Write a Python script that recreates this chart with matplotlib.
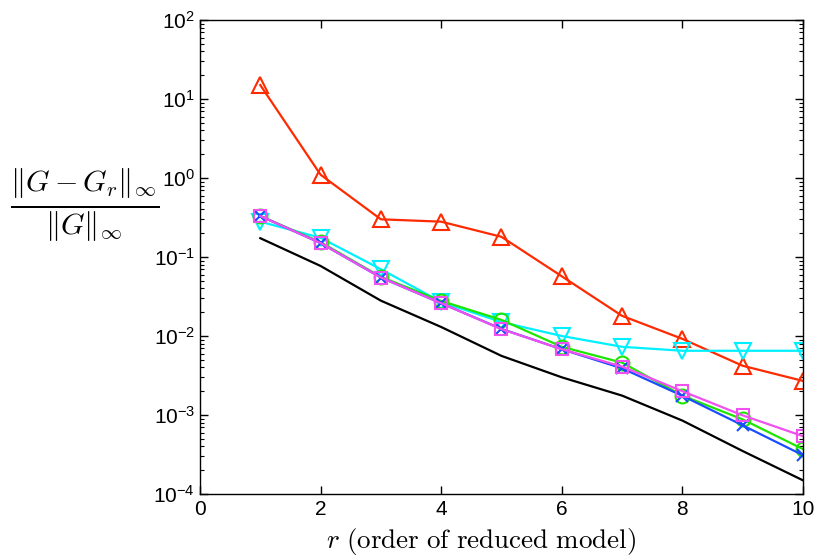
import matplotlib
matplotlib.use("Agg")
import matplotlib.pyplot as plt
import numpy as np
from matplotlib.ticker import LogLocator, NullFormatter

plt.rcParams['font.family'] = ['Liberation Sans', 'DejaVu Sans']
plt.rcParams['mathtext.fontset'] = 'cm'

r = [1, 2, 3, 4, 5, 6, 7, 8, 9, 10]
red_tri = [15.0, 1.1, 0.30, 0.28, 0.18, 0.057, 0.018, 0.0092, 0.0042, 0.0027]
cyan_tri = [0.28, 0.175, 0.070, 0.027, 0.015, 0.010, 0.0073, 0.0065, 0.0065, 0.0065]
green_circ = [0.33, 0.154, 0.056, 0.0278, 0.016, 0.0073, 0.0046, 0.00176, 0.00088, 0.00037]
blue_x = [0.33, 0.15, 0.055, 0.026, 0.0123, 0.0068, 0.0039, 0.00175, 0.00074, 0.00031]
magenta_sq = [0.33, 0.15, 0.055, 0.026, 0.0122, 0.0068, 0.0041, 0.0020, 0.00099, 0.00054]
black_line = [0.173, 0.077, 0.028, 0.013, 0.0056, 0.0030, 0.00176, 0.00085, 0.00035, 0.000149]

fig = plt.figure(figsize=(8.17, 5.57), dpi=100)
ax = fig.add_axes([0.2448, 0.1131, 0.738, 0.851])

lw = 1.6
ax.plot(r, black_line, color='black', lw=lw)
ax.plot(r, red_tri, color='#FF2A00', lw=lw, marker='^', ms=12, mfc='none', mew=1.5)
ax.plot(r, cyan_tri, color='#00F0FF', lw=lw, marker='v', ms=12, mfc='none', mew=1.5)
ax.plot(r, green_circ, color='#1EE600', lw=lw, marker='o', ms=10, mfc='none', mew=1.5)
ax.plot(r, blue_x, color='#1A4DFF', lw=lw, marker='x', ms=9, mfc='none', mew=1.5)
ax.plot(r, magenta_sq, color='#F050F0', lw=lw, marker='s', ms=9, mfc='none', mew=1.5)

ax.set_yscale('log')
ax.set_xlim(0, 10)
ax.set_ylim(1e-4, 1e2)
ax.set_xticks([0, 2, 4, 6, 8, 10])
ax.yaxis.set_major_locator(LogLocator(base=10, numticks=10))
ax.yaxis.set_minor_locator(LogLocator(base=10, subs=np.arange(2, 10), numticks=100))
ax.yaxis.set_minor_formatter(NullFormatter())
ax.tick_params(which='both', direction='in', top=True, right=True, labelsize=15)
ax.tick_params(which='major', length=6, width=1)
ax.tick_params(which='minor', length=3, width=0.8)
ax.tick_params(axis='x', pad=4)
for s in ax.spines.values():
    s.set_linewidth(1.0)

ax.set_xlabel(r'$r\ \mathrm{(order\ of\ reduced\ model)}$', fontsize=19.5, labelpad=0)
ax.xaxis.set_label_coords(0.466, -0.068)
fig.text(0.104, 0.632, r'$\frac{\|G-G_r\|_\infty}{\|G\|_\infty}$', fontsize=31,
         ha='center', va='center')

fig.savefig('out.png', dpi=100)
